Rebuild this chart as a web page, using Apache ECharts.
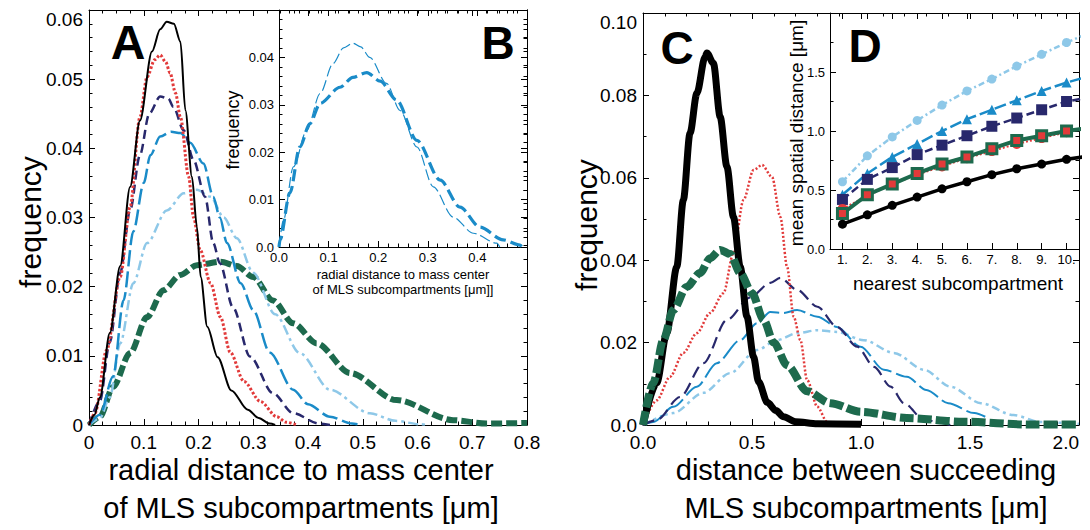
<!DOCTYPE html>
<html><head><meta charset="utf-8">
<script src="https://cdn.jsdelivr.net/npm/echarts@6/dist/echarts.min.js"></script>
<style>html,body{margin:0;padding:0;background:#fff}#c{width:1090px;height:530px}</style>
</head><body><div id="c"></div>
<script>
// ---------- Panel A : radial distance to mass center ----------
const aBlackX = [0,0.01,0.02,0.038,0.057,0.075,0.093,0.115,0.13,0.142,0.155,0.167,0.176,0.188,0.197,0.204,0.216,0.235,0.26,0.29,0.31,0.33,0.34];
const aBlackY = [0,0.0015,0.004,0.0133,0.023,0.0344,0.044,0.054,0.0572,0.0583,0.058,0.0554,0.0455,0.0359,0.0287,0.0214,0.0142,0.0098,0.005,0.0022,0.001,0.0002,0];
const aRedX = [0,0.011,0.032,0.057,0.075,0.093,0.106,0.12,0.13,0.14,0.148,0.158,0.167,0.182,0.191,0.203,0.222,0.24,0.258,0.283,0.313,0.343,0.36,0.38];
const aRedY = [0,0.0017,0.0108,0.0214,0.0315,0.0445,0.0503,0.0528,0.0535,0.0525,0.0509,0.048,0.0445,0.0359,0.030,0.0253,0.0205,0.0156,0.0105,0.0063,0.0034,0.0012,0.0004,0];
const aNavyX = [0,0.02,0.038,0.057,0.075,0.093,0.11,0.13,0.145,0.154,0.173,0.191,0.212,0.227,0.239,0.263,0.294,0.336,0.373,0.42,0.44];
const aNavyY = [0,0.0035,0.012,0.022,0.031,0.039,0.045,0.0475,0.0472,0.046,0.0426,0.0383,0.033,0.0263,0.0234,0.017,0.0099,0.0046,0.0017,0.0002,0];
const aCyanX = [0,0.02,0.044,0.063,0.081,0.1,0.112,0.13,0.15,0.167,0.185,0.209,0.227,0.239,0.252,0.277,0.30,0.33,0.373,0.40,0.44,0.48,0.5];
const aCyanY = [0,0.0015,0.007,0.018,0.028,0.035,0.039,0.0417,0.0424,0.0422,0.0408,0.0378,0.033,0.030,0.0263,0.0205,0.0166,0.0105,0.0051,0.003,0.0012,0.0002,0];
const aLightX = [0,0.02,0.038,0.057,0.081,0.106,0.142,0.173,0.197,0.222,0.246,0.27,0.30,0.34,0.385,0.44,0.513,0.56,0.605,0.62];
const aLightY = [0,0.001,0.004,0.0118,0.0205,0.0263,0.031,0.0335,0.034,0.033,0.030,0.027,0.022,0.016,0.0104,0.0051,0.0017,0.0006,0.0001,0];
const aGreenX = [0,0.02,0.044,0.075,0.106,0.136,0.167,0.197,0.24,0.27,0.30,0.336,0.373,0.416,0.477,0.562,0.665,0.726,0.8];
const aGreenY = [0,0.0012,0.0055,0.0104,0.0156,0.0195,0.0217,0.0231,0.0236,0.023,0.0214,0.018,0.0147,0.0118,0.0075,0.0036,0.0007,0.0002,0.0003];

// ---------- Panel B : inset ----------
const bThinX = [0,0.009,0.029,0.056,0.083,0.109,0.13,0.149,0.165,0.183,0.217,0.244,0.278,0.311,0.351,0.392,0.439,0.445];
const bThinY = [0,0.0057,0.0169,0.0246,0.0324,0.0387,0.042,0.043,0.0422,0.040,0.0345,0.0288,0.0211,0.0127,0.0063,0.0029,0.0008,0];
const bThickX = [0,0.002,0.022,0.042,0.062,0.083,0.123,0.149,0.177,0.204,0.237,0.278,0.325,0.365,0.405,0.452,0.486,0.49];
const bThickY = [0,0.0015,0.0114,0.0211,0.026,0.0303,0.0337,0.0358,0.0368,0.035,0.031,0.0225,0.0141,0.0084,0.0042,0.0015,0.0004,0];

// ---------- Panel C : distance between succeeding subcompartments ----------
const cBlackX = [0,0.063,0.109,0.155,0.185,0.216,0.247,0.285,0.293,0.323,0.354,0.385,0.415,0.446,0.477,0.507,0.53,0.57,0.61,0.645,0.7,0.8,1.0];
const cBlackY = [0,0.0102,0.0223,0.0384,0.0546,0.0709,0.0805,0.0894,0.0903,0.0878,0.0748,0.0627,0.0505,0.0384,0.0263,0.0166,0.0105,0.0055,0.0035,0.002,0.0008,0.0003,0.0002];
const cRedX = [0,0.063,0.124,0.185,0.247,0.308,0.369,0.415,0.461,0.507,0.546,0.592,0.63,0.661,0.691,0.722,0.753,0.8,0.845,0.87];
const cRedY = [0,0.006,0.0117,0.0175,0.0223,0.0272,0.032,0.0417,0.0546,0.0619,0.0631,0.0602,0.0505,0.0384,0.0263,0.0206,0.0109,0.0044,0.0007,0];
const cGreenX = [0,0.047,0.093,0.139,0.2,0.262,0.308,0.354,0.4,0.446,0.5,0.553,0.6,0.661,0.753,0.86,1.0,1.21,1.47,1.78,2.0];
const cGreenY = [0,0.0102,0.0206,0.0279,0.0335,0.0369,0.0405,0.0425,0.0415,0.0369,0.032,0.0255,0.020,0.0145,0.0082,0.0053,0.0032,0.0017,0.0008,0.0001,0.0001];
const cNavyX = [0,0.063,0.17,0.277,0.385,0.492,0.584,0.63,0.707,0.8,0.89,0.983,1.06,1.136,1.197,1.29,1.41];
const cNavyY = [0,0.0012,0.0068,0.015,0.0255,0.031,0.0345,0.0357,0.0328,0.0287,0.0238,0.019,0.0141,0.0093,0.0053,0.0012,0];
const cCyanX = [0,0.047,0.139,0.247,0.338,0.446,0.523,0.584,0.645,0.707,0.8,0.89,0.998,1.105,1.21,1.30,1.40,1.52,1.57];
const cCyanY = [0,0.0007,0.0044,0.0093,0.015,0.0206,0.0247,0.0274,0.0272,0.0279,0.0263,0.0238,0.019,0.0134,0.0117,0.0085,0.0053,0.0029,0.002];
const cLightX = [0,0.139,0.277,0.4,0.523,0.615,0.707,0.8,0.89,1.013,1.15,1.29,1.41,1.55,1.70,1.825,2.0];
const cLightY = [0,0.0029,0.0078,0.0126,0.0182,0.0206,0.0223,0.023,0.0226,0.0206,0.0175,0.0134,0.0093,0.0053,0.0024,0.0007,0.0003];

// ---------- Panel D : mean spatial distance vs nearest subcompartment ----------
const dX = [1,2,3,4,5,6,7,8,9,10,11];
const dLight = [0.57,0.79,0.95,1.09,1.22,1.34,1.44,1.55,1.65,1.75,1.84];
const dCyan  = [0.46,0.64,0.78,0.89,1.00,1.10,1.18,1.26,1.34,1.41,1.47];
const dNavy  = [0.42,0.59,0.69,0.80,0.88,0.96,1.04,1.11,1.18,1.25,1.29];
const dRed   = [0.34,0.45,0.55,0.63,0.70,0.77,0.83,0.89,0.94,0.99,1.03];
const dGreen = [0.30,0.46,0.55,0.64,0.72,0.78,0.85,0.92,0.96,1.00,1.03];
const dBlack = [0.21,0.29,0.37,0.44,0.51,0.57,0.63,0.68,0.72,0.76,0.79];
const dTicks = [1,2,3,4,5,6,7,8,9,10];

const FONT = '"Liberation Sans", Arial, Helvetica, sans-serif';
const COL = {black:'#000000', red:'#e23a3a', navy:'#28286c', cyan:'#1a8bc8', light:'#8ec8e8', green:'#1d6a4d'};

function pairs(xs, ys){ return xs.map((x,i)=>[x, ys[i]]); }

function axis(grid, pos, min, max, interval, minorN, showLabel, fmt, fs, margin, extra){
  const a = {
    type:'value', gridIndex:grid, position:pos, min:min, max:max, interval:interval,
    axisLine:{show:true, onZero:false, lineStyle:{color:'#000', width:1}},
    axisTick:{show:true, inside:true, length:6, lineStyle:{color:'#000', width:1}},
    minorTick:{show:minorN>1, splitNumber:minorN||2, length:3.5, lineStyle:{color:'#000', width:1}},
    splitLine:{show:false}, minorSplitLine:{show:false},
    axisLabel:{show:showLabel, formatter:fmt, fontSize:fs, color:'#000', fontFamily:FONT, margin:margin}
  };
  if (extra) {
    if (extra.axisLabel) Object.assign(a.axisLabel, extra.axisLabel);
    if (extra.axisTick) Object.assign(a.axisTick, extra.axisTick);
  }
  return a;
}

const fA_x = v => v === 0 ? '0' : v.toFixed(1);
const fA_y = v => v === 0 ? '0' : v.toFixed(2);
const f1 = v => v.toFixed(1);
const f0y = v => v === 0 ? '0.0' : v.toFixed(2);
const fD_x = v => Math.round(v) + '.';

const xAxes = [
  axis(0,'bottom',0,0.8,0.1,4,true,fA_x,19,8),
  axis(0,'top',0,0.8,0.1,4,false,fA_x,19,8),
  axis(1,'bottom',0,0.5,0.1,5,true,f1,13,4,{axisLabel:{showMaxLabel:false}}),
  axis(1,'top',0,0.5,0.1,5,false,f1,13,4),
  axis(2,'bottom',0,2.0,0.5,5,true,f1,19,8,{axisLabel:{alignMaxLabel:'right'}}),
  axis(2,'top',0,2.0,0.5,5,false,f1,19,8),
  axis(3,'bottom',0.5,10.5,1,0,true,fD_x,13,4,{axisLabel:{customValues:dTicks}, axisTick:{customValues:dTicks}}),
  axis(3,'top',0.5,10.5,1,0,false,fD_x,13,4,{axisTick:{customValues:dTicks}})
];
const yAxes = [
  axis(0,'left',0,0.06,0.01,5,true,fA_y,19,6,{axisLabel:{verticalAlignMaxLabel:'top'}}),
  axis(0,'right',0,0.06,0.01,5,false,fA_y,19,6),
  axis(1,'left',0,0.05,0.01,5,true,f0y,13,5,{axisLabel:{showMaxLabel:false}}),
  axis(1,'right',0,0.05,0.01,5,false,f0y,13,5),
  axis(2,'left',0,0.10,0.02,2,true,f0y,19,6,{axisLabel:{verticalAlignMaxLabel:'top'}}),
  axis(2,'right',0,0.10,0.02,2,false,f0y,19,6),
  axis(3,'left',0,2.0,0.5,2,true,f1,13,5,{axisLabel:{showMaxLabel:false}}),
  axis(3,'right',0,2.0,0.5,2,false,f1,13,5)
];

function line(xs, ys, ax, color, width, type){
  return {
    type:'line', xAxisIndex:ax, yAxisIndex:ax, data:pairs(xs, ys),
    showSymbol:false, symbol:'none', smooth:0.3, smoothMonotone:'x',
    lineStyle:{color:color, width:width, type:type, cap:'butt', join:'round'},
    silent:true, animation:false, clip:true
  };
}
function dline(ys, color, width, type, sym, size, item){
  return {
    type:'line', xAxisIndex:6, yAxisIndex:6, data:pairs(dX, ys),
    showSymbol:true, symbol:sym, symbolSize:size, smooth:false,
    lineStyle:{color:color, width:width, type:type, cap:'butt'},
    itemStyle:Object.assign({color:color}, item||{}),
    silent:true, animation:false, clip:true
  };
}

const series = [
  // Panel A
  line(aGreenX, aGreenY, 0, COL.green, 6, [11,4]),
  line(aLightX, aLightY, 0, COL.light, 2.5, [10,4,3,4]),
  line(aCyanX, aCyanY, 0, COL.cyan, 2.5, [16,5]),
  line(aNavyX, aNavyY, 0, COL.navy, 2.5, [9,5]),
  line(aRedX, aRedY, 0, COL.red, 3, [2.5,2]),
  line(aBlackX, aBlackY, 0, COL.black, 2, 'solid'),
  // Panel B
  line(bThinX, bThinY, 2, COL.cyan, 1.2, [11,4]),
  line(bThickX, bThickY, 2, COL.cyan, 3.2, [12,5]),
  // Panel C
  line(cLightX, cLightY, 4, COL.light, 2.5, [8,4,3,4]),
  line(cCyanX, cCyanY, 4, COL.cyan, 2, [22,5]),
  line(cNavyX, cNavyY, 4, COL.navy, 2.2, [12,6]),
  line(cRedX, cRedY, 4, COL.red, 2.5, [2,2]),
  line(cBlackX, cBlackY, 4, COL.black, 7, 'solid'),
  line(cGreenX, cGreenY, 4, COL.green, 8, [14,4]),
  // Panel D
  dline(dLight, COL.light, 2.5, [6,3,2,3], 'circle', 9),
  dline(dCyan, COL.cyan, 2.5, [12,4], 'triangle', 10),
  dline(dNavy, COL.navy, 2.5, [8,4], 'rect', 11),
  dline(dRed, COL.red, 2, [2,2], 'circle', 10),
  dline(dGreen, COL.green, 4, 'solid', 'rect', 10, {color:COL.red, borderColor:COL.green, borderWidth:3}),
  dline(dBlack, COL.black, 3.5, 'solid', 'circle', 9)
];

function txt(s, x, y, size, opts){
  const o = opts || {};
  return {
    type:'text', x:x, y:y, rotation:o.rot || 0, z:100, silent:true,
    style:{text:s, fontSize:size, fontFamily:FONT, fontWeight:o.bold ? 'bold' : 'normal',
           fill:'#000', align:'center', verticalAlign:'middle', lineHeight:o.lh || size*1.2}
  };
}

const graphic = [
  txt('A', 128, 42, 48, {bold:true}),
  txt('B', 498, 43, 46, {bold:true}),
  txt('C', 677, 48, 46, {bold:true}),
  txt('D', 865, 46, 46, {bold:true}),
  txt('frequency', 30, 222, 30, {rot:Math.PI/2}),
  txt('radial distance to mass center\nof MLS subcompartments [\u03bcm]', 301, 489, 29, {lh:38}),
  txt('frequency', 233, 130, 18, {rot:Math.PI/2}),
  txt('radial distance to mass center\nof MLS subcompartments [\u03bcm]]', 403, 282, 13, {lh:15}),
  txt('frequency', 586, 225, 30, {rot:Math.PI/2}),
  txt('distance between succeeding\nMLS subcompartments [\u03bcm]', 866, 489, 29, {lh:38}),
  txt('mean spatial distance [\u03bcm]', 796, 133, 19, {rot:Math.PI/2}),
  txt('nearest subcompartment', 958, 283, 19)
];

const chart = echarts.init(document.getElementById('c'), null, {renderer:'svg'});
chart.setOption({
  animation:false,
  backgroundColor:'#ffffff',
  grid:[
    {left:89, top:10, width:438, height:415},
    {left:279, top:10, width:248, height:237},
    {left:643, top:13, width:436, height:412},
    {left:830, top:13, width:249, height:236}
  ],
  xAxis:xAxes,
  yAxis:yAxes,
  series:series,
  graphic:graphic
});
</script></body></html>
